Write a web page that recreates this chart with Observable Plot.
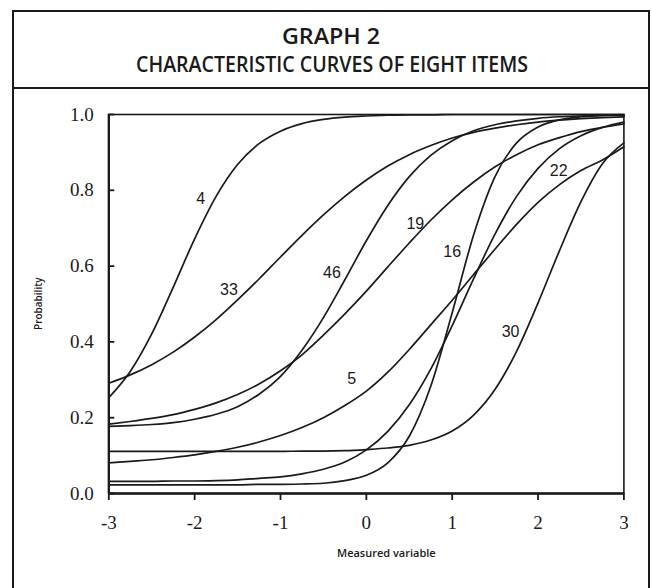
<!DOCTYPE html>
<html>
<head>
<meta charset="utf-8">
<script src="https://cdn.jsdelivr.net/npm/d3@7"></script>
<script src="https://cdn.jsdelivr.net/npm/@observablehq/plot@0.6"></script>
<style>
html, body { margin: 0; padding: 0; background: #fff; }
#wrap { position: relative; width: 652px; height: 588px; overflow: hidden; background: #fff; }
#box { position: absolute; left: 11.5px; top: 10px; width: 638.7px; height: 640px; border: 2.3px solid #1a1a1a; box-sizing: border-box; }
#divider { position: absolute; left: 11.5px; top: 86.5px; width: 638.7px; height: 2.2px; background: #1a1a1a; }
#title { position: absolute; left: 0; top: 0; }
#chart { position: absolute; left: 0; top: 90px; }
</style>
</head>
<body>
<div id="wrap">
  <div id="box"></div>
  <div id="divider"></div>
  <svg id="title" width="652" height="86">
    <text x="331" y="43.5" text-anchor="middle" font-family="'Open Sans', 'Liberation Sans', sans-serif" font-weight="600" font-size="21" fill="#1a1a1a" textLength="98" lengthAdjust="spacingAndGlyphs">GRAPH 2</text>
    <text x="332" y="71.5" text-anchor="middle" font-family="'Open Sans', 'Liberation Sans', sans-serif" font-weight="600" font-size="21" fill="#1a1a1a" textLength="392" lengthAdjust="spacingAndGlyphs">CHARACTERISTIC CURVES OF EIGHT ITEMS</text>
  </svg>
  <div id="chart"></div>
</div>
<script>
// Sample positions on the measured variable
const xGrid = [-3, -2.75, -2.5, -2.25, -2, -1.75, -1.5, -1.25, -1, -0.75, -0.5, -0.25, 0, 0.25, 0.5, 0.75, 1, 1.25, 1.5, 1.75, 2, 2.25, 2.5, 2.75, 3];

// Probabilities for each item
const item4  = [0.253, 0.322, 0.421, 0.544, 0.672, 0.784, 0.868, 0.923, 0.956, 0.976, 0.987, 0.993, 0.996, 0.998, 0.999, 0.999, 1, 1, 1, 1, 1, 1, 1, 1, 1];
const item33 = [0.291, 0.313, 0.340, 0.373, 0.413, 0.459, 0.511, 0.566, 0.624, 0.681, 0.735, 0.784, 0.827, 0.864, 0.894, 0.918, 0.938, 0.953, 0.964, 0.973, 0.980, 0.985, 0.989, 0.992, 0.994];
const item46 = [0.177, 0.179, 0.182, 0.187, 0.196, 0.209, 0.229, 0.262, 0.309, 0.378, 0.464, 0.564, 0.667, 0.760, 0.836, 0.892, 0.931, 0.957, 0.973, 0.983, 0.990, 0.994, 0.996, 0.998, 0.998];
const item19 = [0.183, 0.190, 0.198, 0.208, 0.222, 0.239, 0.261, 0.289, 0.324, 0.366, 0.418, 0.474, 0.534, 0.598, 0.661, 0.721, 0.775, 0.822, 0.862, 0.894, 0.920, 0.939, 0.955, 0.966, 0.975];
const item16 = [0.023, 0.023, 0.023, 0.023, 0.023, 0.023, 0.023, 0.024, 0.024, 0.025, 0.027, 0.034, 0.048, 0.081, 0.151, 0.283, 0.477, 0.683, 0.837, 0.925, 0.967, 0.986, 0.994, 0.997, 0.999];
const item22 = [0.032, 0.032, 0.032, 0.033, 0.033, 0.034, 0.036, 0.040, 0.044, 0.052, 0.064, 0.083, 0.115, 0.164, 0.234, 0.328, 0.443, 0.567, 0.685, 0.784, 0.858, 0.910, 0.944, 0.966, 0.980];
const item5  = [0.081, 0.085, 0.089, 0.095, 0.102, 0.111, 0.122, 0.136, 0.153, 0.174, 0.200, 0.232, 0.270, 0.320, 0.380, 0.445, 0.510, 0.578, 0.645, 0.710, 0.768, 0.815, 0.852, 0.880, 0.915];
const item30 = [0.111, 0.111, 0.111, 0.111, 0.111, 0.111, 0.111, 0.111, 0.111, 0.112, 0.112, 0.113, 0.116, 0.120, 0.127, 0.141, 0.165, 0.207, 0.275, 0.375, 0.503, 0.641, 0.770, 0.870, 0.925];

const itemNames = ["4", "33", "46", "19", "16", "22", "5", "30"];
const itemValues = [item4, item33, item46, item19, item16, item22, item5, item30];

// Curve labels
const labelText = ["4", "33", "46", "19", "16", "22", "5", "30"];
const labelX = [-1.93, -1.60, -0.40, 0.57, 1.00, 2.24, -0.17, 1.68];
const labelY = [0.778, 0.536, 0.582, 0.712, 0.637, 0.852, 0.303, 0.426];

// Axes
const xTicks = [-3, -2, -1, 0, 1, 2, 3];
const yTicks = [0, 0.2, 0.4, 0.6, 0.8, 1.0];
const xLabel = "Measured variable";
const yLabel = "Probability";

const rows = [];
itemNames.forEach((name, k) => {
  xGrid.forEach((x, i) => rows.push({item: name, x: x, p: itemValues[k][i]}));
});

const ink = "#1a1a1a";
const chart = Plot.plot({
  width: 652,
  height: 498,
  marginLeft: 108.3,
  marginRight: 28.6,
  marginTop: 24,
  marginBottom: 95,
  style: {background: "transparent", color: ink, fontFamily: "'Liberation Serif', 'DejaVu Serif', serif", fontSize: "19px"},
  x: {domain: [xTicks[0], xTicks[xTicks.length - 1]]},
  y: {domain: [yTicks[0], yTicks[yTicks.length - 1]]},
  marks: [
    Plot.frame({stroke: ink, strokeWidth: 1.6}),
    Plot.line(rows, {x: "x", y: "p", z: "item", curve: "monotone-x", stroke: ink, strokeWidth: 1.7}),
    Plot.ruleX([xTicks[0]], {stroke: ink, strokeWidth: 2.3}),
    Plot.ruleY([yTicks[0]], {stroke: ink, strokeWidth: 2.3}),
    Plot.axisX({ticks: xTicks, tickSize: 7, tickPadding: 15, tickFormat: d => String(d), label: null, strokeWidth: 1.8}),
    Plot.axisY({ticks: yTicks, tickSize: 6, dx: 6, tickFormat: () => "", label: null, strokeWidth: 1.8}),
    Plot.axisY({ticks: yTicks, tickSize: 0, tickPadding: 15, tickFormat: d3.format(".1f"), label: null}),
    Plot.text(labelText, {x: (d, i) => labelX[i], y: (d, i) => labelY[i], text: d => d, fontSize: 16, fontFamily: "'Liberation Sans', Arial, sans-serif", fill: ink}),
    Plot.text([xLabel], {frameAnchor: "bottom", dx: 20, dy: 63, text: d => d, fontSize: 11, fontWeight: 600, fontFamily: "'Open Sans', 'Liberation Sans', sans-serif", fill: ink}),
    Plot.text([yLabel], {frameAnchor: "left", dx: -70, dy: 26, rotate: -90, text: d => d, fontSize: 10, fontWeight: 600, fontFamily: "'Open Sans', 'Liberation Sans', sans-serif", fill: ink})
  ]
});
document.getElementById("chart").appendChild(chart);
</script>
</body>
</html>
